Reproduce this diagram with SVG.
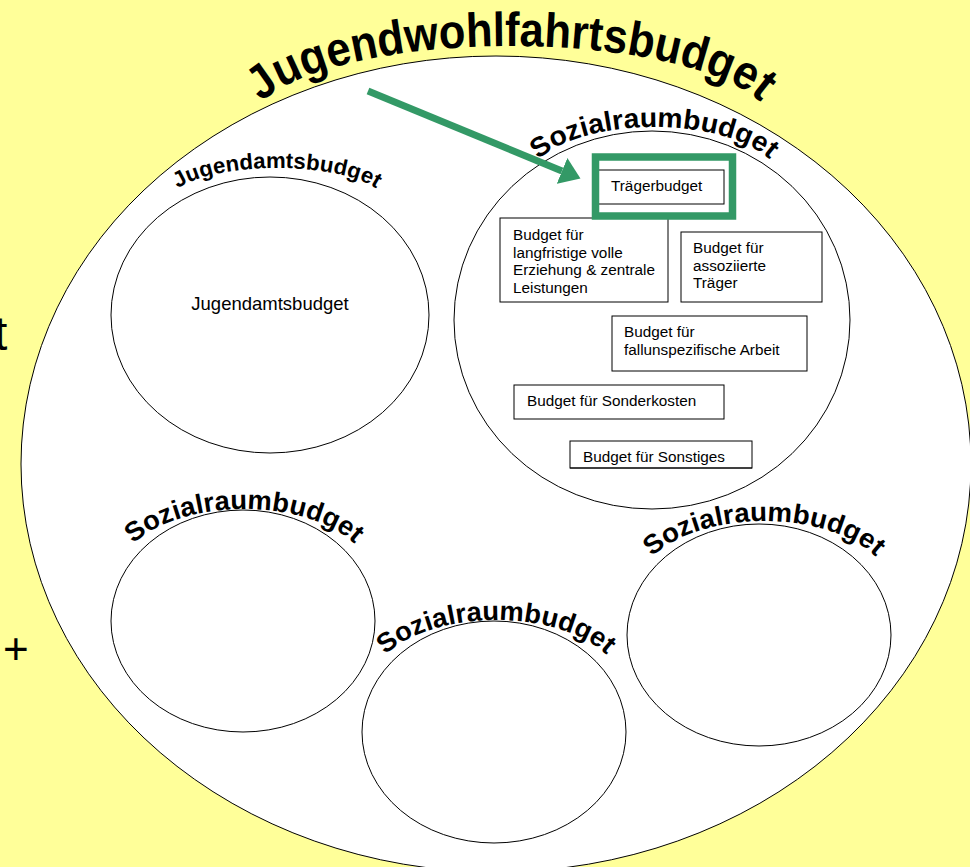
<svg xmlns="http://www.w3.org/2000/svg" xmlns:xlink="http://www.w3.org/1999/xlink" width="970" height="867" viewBox="0 0 970 867">
<style>
  .bg { fill: #FFFF99; }
  .ell { fill: #FFFFFF; stroke: #000000; stroke-width: 1; }
  .box { fill: #FFFFFF; stroke: #000000; stroke-width: 1; }
  .bt { font-family: "Liberation Sans", Arial, sans-serif; font-size: 15.3px; fill: #000000; }
  .arc { font-family: "Liberation Sans", Arial, sans-serif; font-weight: bold; fill: #000000; }
  .frame { fill: none; stroke: #339966; stroke-width: 7.5; }
  .arrow { stroke: #339966; stroke-width: 7; fill: none; }
</style>
<defs>
  <marker id="ah" viewBox="0 0 20 28" refX="0" refY="14" markerWidth="20" markerHeight="28" orient="auto" markerUnits="userSpaceOnUse">
    <path d="M0,0 L20,14 L0,28 z" fill="#339966"/>
  </marker>
  <path id="pTitle" d="M249,127 A262,81 0 0 1 773,127"/>
  <path id="pJA" d="M167,204 A110,36 0 0 1 387,204"/>
  <path id="pSR1" d="M526,184 A128,57 0 0 1 782,184"/>
  <path id="pSR2" d="M116,579 A128,70 0 0 1 372,579"/>
  <path id="pSR3" d="M368,690 A128,70 0 0 1 624,690"/>
  <path id="pSR4" d="M636,591 A128,70 0 0 1 892,591"/>
  <clipPath id="clipSonst"><rect x="570" y="441" width="182" height="26"/></clipPath>
</defs>

<rect class="bg" x="0" y="0" width="970" height="867"/>
<text x="-6" y="350" font-family="Liberation Sans, Arial, sans-serif" font-size="48" fill="#000">t</text>
<text x="3" y="664" font-family="Liberation Sans, Arial, sans-serif" font-size="44" fill="#000">+</text>

<g id="jugendwohlfahrtsbudget">
  <ellipse class="ell" cx="496" cy="464" rx="475" ry="408"/>
  <text class="arc" font-size="48"><textPath href="#pTitle" xlink:href="#pTitle" startOffset="50%" text-anchor="middle" textLength="520" lengthAdjust="spacingAndGlyphs">Jugendwohlfahrtsbudget</textPath></text>
</g>

<g id="jugendamtsbudget">
  <ellipse class="ell" cx="270" cy="315" rx="159" ry="138"/>
  <text class="arc" font-size="22"><textPath href="#pJA" xlink:href="#pJA" startOffset="50%" text-anchor="middle" textLength="205" lengthAdjust="spacingAndGlyphs">Jugendamtsbudget</textPath></text>
  <text x="270" y="310" font-family="Liberation Sans, Arial, sans-serif" font-size="18.5" text-anchor="middle" fill="#000">Jugendamtsbudget</text>
</g>

<g id="sozialraumbudget-main">
  <ellipse class="ell" cx="652" cy="320" rx="198" ry="189"/>
  <text class="arc" font-size="27.5"><textPath href="#pSR1" xlink:href="#pSR1" startOffset="50%" text-anchor="middle" textLength="245" lengthAdjust="spacingAndGlyphs">Sozialraumbudget</textPath></text>
</g>

<g id="box-langfristig">
  <rect class="box" x="500" y="218" width="168" height="84"/>
  <text class="bt"><tspan x="513" y="240">Budget für</tspan><tspan x="513" y="257.5">langfristige volle</tspan><tspan x="513" y="275">Erziehung &amp; zentrale</tspan><tspan x="513" y="292.5">Leistungen</tspan></text>
</g>

<g id="box-assoziiert">
  <rect class="box" x="681" y="232" width="141" height="70"/>
  <text class="bt"><tspan x="693" y="253">Budget für</tspan><tspan x="693" y="270.5">assoziierte</tspan><tspan x="693" y="288">Träger</tspan></text>
</g>

<g id="box-fallunspezifisch">
  <rect class="box" x="612" y="316" width="195" height="55"/>
  <text class="bt"><tspan x="624" y="337">Budget für</tspan><tspan x="624" y="354.5">fallunspezifische Arbeit</tspan></text>
</g>

<g id="box-sonderkosten">
  <rect class="box" x="514" y="385" width="210" height="34"/>
  <text class="bt" x="527" y="406">Budget für Sonderkosten</text>
</g>

<g id="box-sonstiges">
  <rect class="box" x="570" y="441" width="182" height="27"/>
  <text class="bt" x="583" y="462" clip-path="url(#clipSonst)">Budget für Sonstiges</text>
  <line x1="570" y1="468" x2="752" y2="468" stroke="#000" stroke-width="1"/>
</g>

<g id="box-traegerbudget">
  <rect class="box" x="598" y="170" width="126" height="34"/>
  <text class="bt" x="611" y="191">Trägerbudget</text>
  <rect class="frame" x="595.5" y="157" width="137" height="59"/>
</g>

<g id="sozialraumbudget-2">
  <ellipse class="ell" cx="243" cy="621" rx="132" ry="111"/>
  <text class="arc" font-size="27"><textPath href="#pSR2" xlink:href="#pSR2" startOffset="50%" text-anchor="middle" textLength="237" lengthAdjust="spacingAndGlyphs">Sozialraumbudget</textPath></text>
</g>

<g id="sozialraumbudget-3">
  <ellipse class="ell" cx="494" cy="732" rx="132" ry="111"/>
  <text class="arc" font-size="27"><textPath href="#pSR3" xlink:href="#pSR3" startOffset="50%" text-anchor="middle" textLength="237" lengthAdjust="spacingAndGlyphs">Sozialraumbudget</textPath></text>
</g>

<g id="sozialraumbudget-4">
  <ellipse class="ell" cx="759" cy="635" rx="132" ry="111"/>
  <text class="arc" font-size="27"><textPath href="#pSR4" xlink:href="#pSR4" startOffset="50%" text-anchor="middle" textLength="240" lengthAdjust="spacingAndGlyphs">Sozialraumbudget</textPath></text>
</g>

<g id="connectors">
  <line class="arrow" x1="368" y1="91" x2="562" y2="171" marker-end="url(#ah)"/>
</g>
</svg>
